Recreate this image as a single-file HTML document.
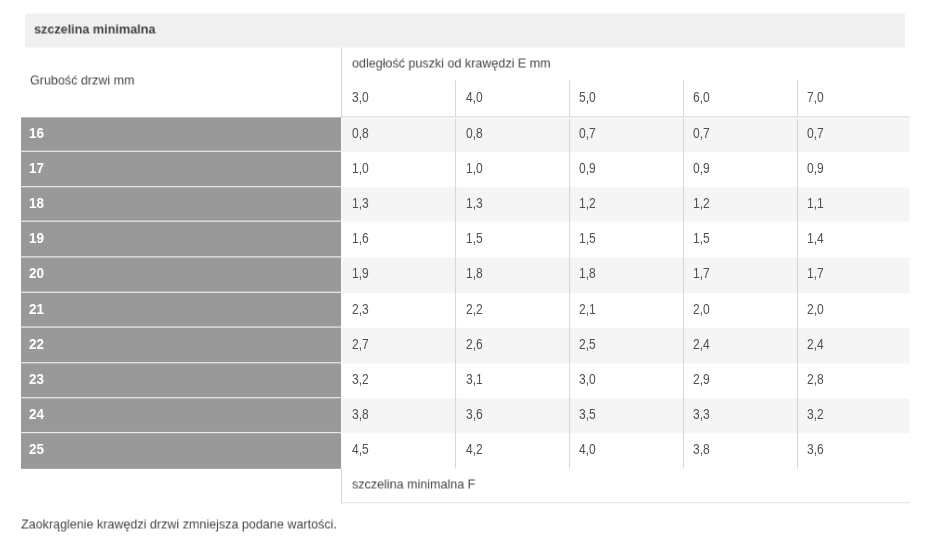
<!DOCTYPE html><html lang="pl"><head><meta charset="utf-8"><title>szczelina minimalna</title><style>
html,body{margin:0;padding:0;background:#fff;}
body{width:931px;height:545px;position:relative;overflow:hidden;font-family:"Liberation Sans",Arial,sans-serif;font-size:14px;color:#505050;}
svg{position:absolute;left:0;top:0;}
.t{position:absolute;white-space:nowrap;line-height:16px;height:16px;font-size:13.5px;transform:scaleX(0.929);transform-origin:0 50%;}
.n{margin-top:-1px;font-size:14px;transform:scaleX(0.86);}
.w{margin-top:-1px;font-size:14px;transform:scaleX(0.96);color:#fff;}
.h{margin-top:-1px;font-size:13.2px;will-change:transform;transform:translateY(0.5px) scaleX(0.957);color:#444;}
.b{font-weight:bold;}
.u{color:#464646;will-change:transform;transform:translateY(-0.5px) scaleX(0.929);}
</style></head><body>
<svg width="931" height="545" viewBox="0 0 931 545">
<rect x="25.00" y="13.60" width="880.00" height="33.90" fill="#f0f0f0"/>
<rect x="341.50" y="117.00" width="568.00" height="34.90" fill="#f5f5f5"/>
<rect x="341.50" y="187.30" width="568.00" height="34.50" fill="#f5f5f5"/>
<rect x="341.50" y="257.50" width="568.00" height="35.40" fill="#f5f5f5"/>
<rect x="341.50" y="327.70" width="568.00" height="35.70" fill="#f5f5f5"/>
<rect x="341.50" y="398.30" width="568.00" height="34.90" fill="#f5f5f5"/>
<rect x="21.00" y="117.40" width="320.00" height="351.40" fill="#e8e8e8"/>
<rect x="21.00" y="117.40" width="320.00" height="33.25" fill="#999999"/>
<rect x="21.00" y="151.90" width="320.00" height="34.15" fill="#999999"/>
<rect x="21.00" y="187.30" width="320.00" height="33.25" fill="#999999"/>
<rect x="21.00" y="221.80" width="320.00" height="34.45" fill="#999999"/>
<rect x="21.00" y="257.50" width="320.00" height="34.15" fill="#999999"/>
<rect x="21.00" y="292.90" width="320.00" height="33.55" fill="#999999"/>
<rect x="21.00" y="327.70" width="320.00" height="34.45" fill="#999999"/>
<rect x="21.00" y="363.40" width="320.00" height="33.65" fill="#999999"/>
<rect x="21.00" y="398.30" width="320.00" height="33.65" fill="#999999"/>
<rect x="21.00" y="433.20" width="320.00" height="35.60" fill="#999999"/>
<rect x="341.10" y="47.50" width="0.90" height="455.70" fill="#d2d2d2"/>
<rect x="341.00" y="118.00" width="1.00" height="350.80" fill="#fbfbfb"/>
<rect x="455.15" y="80.30" width="0.90" height="388.00" fill="#d2d2d2"/>
<rect x="569.15" y="80.30" width="0.90" height="388.00" fill="#d2d2d2"/>
<rect x="683.15" y="80.30" width="0.90" height="388.00" fill="#d2d2d2"/>
<rect x="797.15" y="80.30" width="0.90" height="388.00" fill="#d2d2d2"/>
<rect x="341.50" y="116.10" width="568.00" height="1.70" fill="#e3e3e3"/>
<rect x="342.00" y="117.80" width="567.50" height="1.20" fill="#fbfbfb"/>
<rect x="341.10" y="502.30" width="568.40" height="1.00" fill="#e0e0e0"/>
</svg>
<div class="t b h" style="left:34px;top:22px">szczelina minimalna</div>
<div class="t u" style="left:30px;top:73px">Grubość drzwi mm</div>
<div class="t u" style="left:351.5px;top:56px">odległość puszki od krawędzi E mm</div>
<div class="t u" style="left:351.5px;top:477px">szczelina minimalna F</div>
<div class="t u" style="left:20.5px;top:517px">Zaokrąglenie krawędzi drzwi zmniejsza podane wartości.</div>
<div class="t n" style="left:351.6px;top:89.5px">3,0</div>
<div class="t n" style="left:465.6px;top:89.5px">4,0</div>
<div class="t n" style="left:578.9px;top:89.5px">5,0</div>
<div class="t n" style="left:692.8px;top:89.5px">6,0</div>
<div class="t n" style="left:806.8px;top:89.5px">7,0</div>
<div class="t b w" style="left:29px;top:125.5px">16</div>
<div class="t n" style="left:351.6px;top:125.5px">0,8</div>
<div class="t n" style="left:465.6px;top:125.5px">0,8</div>
<div class="t n" style="left:578.9px;top:125.5px">0,7</div>
<div class="t n" style="left:692.8px;top:125.5px">0,7</div>
<div class="t n" style="left:806.8px;top:125.5px">0,7</div>
<div class="t b w" style="left:29px;top:160.7px">17</div>
<div class="t n" style="left:351.6px;top:160.7px">1,0</div>
<div class="t n" style="left:465.6px;top:160.7px">1,0</div>
<div class="t n" style="left:578.9px;top:160.7px">0,9</div>
<div class="t n" style="left:692.8px;top:160.7px">0,9</div>
<div class="t n" style="left:806.8px;top:160.7px">0,9</div>
<div class="t b w" style="left:29px;top:195.8px">18</div>
<div class="t n" style="left:351.6px;top:195.8px">1,3</div>
<div class="t n" style="left:465.6px;top:195.8px">1,3</div>
<div class="t n" style="left:578.9px;top:195.8px">1,2</div>
<div class="t n" style="left:692.8px;top:195.8px">1,2</div>
<div class="t n" style="left:806.8px;top:195.8px">1,1</div>
<div class="t b w" style="left:29px;top:231.0px">19</div>
<div class="t n" style="left:351.6px;top:231.0px">1,6</div>
<div class="t n" style="left:465.6px;top:231.0px">1,5</div>
<div class="t n" style="left:578.9px;top:231.0px">1,5</div>
<div class="t n" style="left:692.8px;top:231.0px">1,5</div>
<div class="t n" style="left:806.8px;top:231.0px">1,4</div>
<div class="t b w" style="left:29px;top:266.2px">20</div>
<div class="t n" style="left:351.6px;top:266.2px">1,9</div>
<div class="t n" style="left:465.6px;top:266.2px">1,8</div>
<div class="t n" style="left:578.9px;top:266.2px">1,8</div>
<div class="t n" style="left:692.8px;top:266.2px">1,7</div>
<div class="t n" style="left:806.8px;top:266.2px">1,7</div>
<div class="t b w" style="left:29px;top:302.4px">21</div>
<div class="t n" style="left:351.6px;top:302.4px">2,3</div>
<div class="t n" style="left:465.6px;top:302.4px">2,2</div>
<div class="t n" style="left:578.9px;top:302.4px">2,1</div>
<div class="t n" style="left:692.8px;top:302.4px">2,0</div>
<div class="t n" style="left:806.8px;top:302.4px">2,0</div>
<div class="t b w" style="left:29px;top:336.5px">22</div>
<div class="t n" style="left:351.6px;top:336.5px">2,7</div>
<div class="t n" style="left:465.6px;top:336.5px">2,6</div>
<div class="t n" style="left:578.9px;top:336.5px">2,5</div>
<div class="t n" style="left:692.8px;top:336.5px">2,4</div>
<div class="t n" style="left:806.8px;top:336.5px">2,4</div>
<div class="t b w" style="left:29px;top:371.7px">23</div>
<div class="t n" style="left:351.6px;top:371.7px">3,2</div>
<div class="t n" style="left:465.6px;top:371.7px">3,1</div>
<div class="t n" style="left:578.9px;top:371.7px">3,0</div>
<div class="t n" style="left:692.8px;top:371.7px">2,9</div>
<div class="t n" style="left:806.8px;top:371.7px">2,8</div>
<div class="t b w" style="left:29px;top:406.9px">24</div>
<div class="t n" style="left:351.6px;top:406.9px">3,8</div>
<div class="t n" style="left:465.6px;top:406.9px">3,6</div>
<div class="t n" style="left:578.9px;top:406.9px">3,5</div>
<div class="t n" style="left:692.8px;top:406.9px">3,3</div>
<div class="t n" style="left:806.8px;top:406.9px">3,2</div>
<div class="t b w" style="left:29px;top:442.0px">25</div>
<div class="t n" style="left:351.6px;top:442.0px">4,5</div>
<div class="t n" style="left:465.6px;top:442.0px">4,2</div>
<div class="t n" style="left:578.9px;top:442.0px">4,0</div>
<div class="t n" style="left:692.8px;top:442.0px">3,8</div>
<div class="t n" style="left:806.8px;top:442.0px">3,6</div>
</body></html>
